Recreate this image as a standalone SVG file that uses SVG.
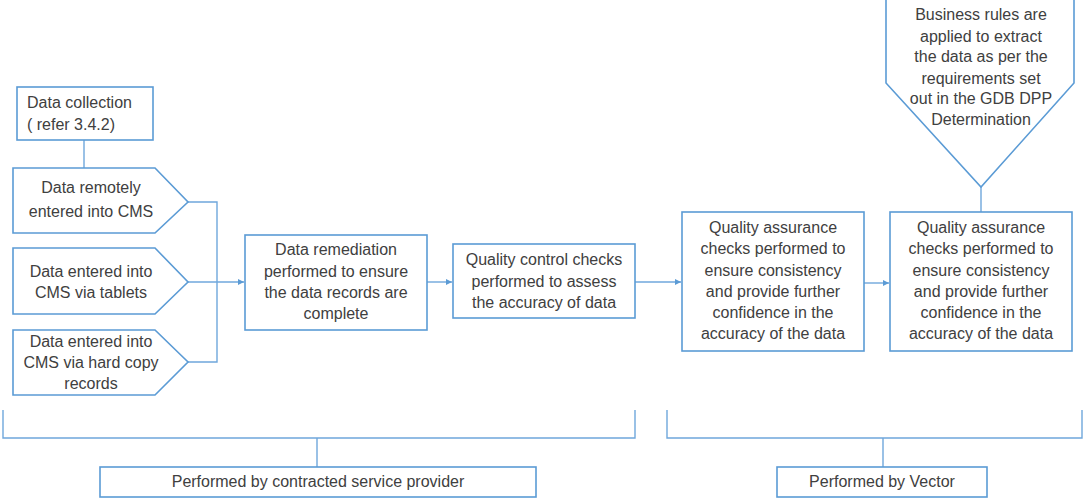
<svg xmlns="http://www.w3.org/2000/svg" width="1084" height="498" viewBox="0 0 1084 498">
<style>
.s{fill:#fff;stroke:#5b9bd5;stroke-width:1.6}
.c{fill:none;stroke:#6fa7dc;stroke-width:1.4}
text{font-family:"Liberation Sans",Arial,sans-serif;font-size:16px;fill:#404040}
.m{text-anchor:middle}
</style>
<defs>
<marker id="ah" viewBox="0 0 10 10" refX="10" refY="5" markerWidth="6" markerHeight="6" markerUnits="userSpaceOnUse" orient="auto">
<path d="M0,0 L10,5 L0,10 z" fill="#5b9bd5"/>
</marker>
</defs>
<rect width="1084" height="498" fill="#fff"/>
<g id="connectors">
<path class="c" d="M84,140 V168"/>
<path class="c" d="M188,202 H217 V362 H188"/>
<path class="c" d="M188,282 H244" marker-end="url(#ah)"/>
<path class="c" d="M427,282 H452" marker-end="url(#ah)"/>
<path class="c" d="M635,282 H681" marker-end="url(#ah)"/>
<path class="c" d="M864,283 H889" marker-end="url(#ah)"/>
<path class="c" d="M981,187 V212"/>
<path class="c" d="M3,410 V438 H635 V410"/>
<path class="c" d="M317,438 V467"/>
<path class="c" d="M667,410 V438 H1082 V410"/>
<path class="c" d="M883,438 V467"/>
</g>
<g id="data-collection">
<rect class="s" x="17" y="87" width="136" height="53"/>
<text x="27" y="108">Data collection</text>
<text x="27" y="130">( refer 3.4.2)</text>
</g>
<g id="remote-entry">
<path class="s" d="M13,168 H155 L188,202 L155,233 H13 Z"/>
<text class="m" x="91" y="193">Data remotely</text>
<text class="m" x="91" y="217">entered into CMS</text>
</g>
<g id="tablet-entry">
<path class="s" d="M13,248 H155 L188,282 L155,314 H13 Z"/>
<text class="m" x="91" y="277">Data entered into</text>
<text class="m" x="91" y="298">CMS via tablets</text>
</g>
<g id="hardcopy-entry">
<path class="s" d="M13,330 H155 L188,362 L155,395 H13 Z"/>
<text class="m" x="91" y="347">Data entered into</text>
<text class="m" x="91" y="368">CMS via hard copy</text>
<text class="m" x="91" y="389">records</text>
</g>
<g id="remediation">
<rect class="s" x="245" y="235" width="182" height="95"/>
<text class="m" x="336" y="255">Data remediation</text>
<text class="m" x="336" y="277">performed to ensure</text>
<text class="m" x="336" y="298">the data records are</text>
<text class="m" x="336" y="319">complete</text>
</g>
<g id="quality-control">
<rect class="s" x="453" y="244" width="182" height="74"/>
<text class="m" x="544" y="265">Quality control checks</text>
<text class="m" x="544" y="287">performed to assess</text>
<text class="m" x="544" y="308">the accuracy of data</text>
</g>
<g id="qa-1">
<rect class="s" x="682" y="212" width="182" height="139"/>
<text class="m" x="773" y="233">Quality assurance</text>
<text class="m" x="773" y="254">checks performed to</text>
<text class="m" x="773" y="276">ensure consistency</text>
<text class="m" x="773" y="297">and provide further</text>
<text class="m" x="773" y="318">confidence in the</text>
<text class="m" x="773" y="339">accuracy of the data</text>
</g>
<g id="qa-2">
<rect class="s" x="890" y="212" width="182" height="139"/>
<text class="m" x="981" y="233">Quality assurance</text>
<text class="m" x="981" y="254">checks performed to</text>
<text class="m" x="981" y="276">ensure consistency</text>
<text class="m" x="981" y="297">and provide further</text>
<text class="m" x="981" y="318">confidence in the</text>
<text class="m" x="981" y="339">accuracy of the data</text>
</g>
<g id="business-rules">
<path class="s" d="M886,-1 H1074 V83 L981,187 L886,83 Z"/>
<text class="m" x="981" y="20">Business rules are</text>
<text class="m" x="981" y="42">applied to extract</text>
<text class="m" x="981" y="62">the data as per the</text>
<text class="m" x="981" y="84">requirements set</text>
<text class="m" x="981" y="104">out in the GDB DPP</text>
<text class="m" x="981" y="125">Determination</text>
</g>
<g id="service-provider">
<rect class="s" x="100" y="467" width="436" height="30"/>
<text class="m" x="318" y="487">Performed by contracted service provider</text>
</g>
<g id="vector">
<rect class="s" x="777" y="467" width="210" height="30"/>
<text class="m" x="882" y="487">Performed by Vector</text>
</g>
</svg>
